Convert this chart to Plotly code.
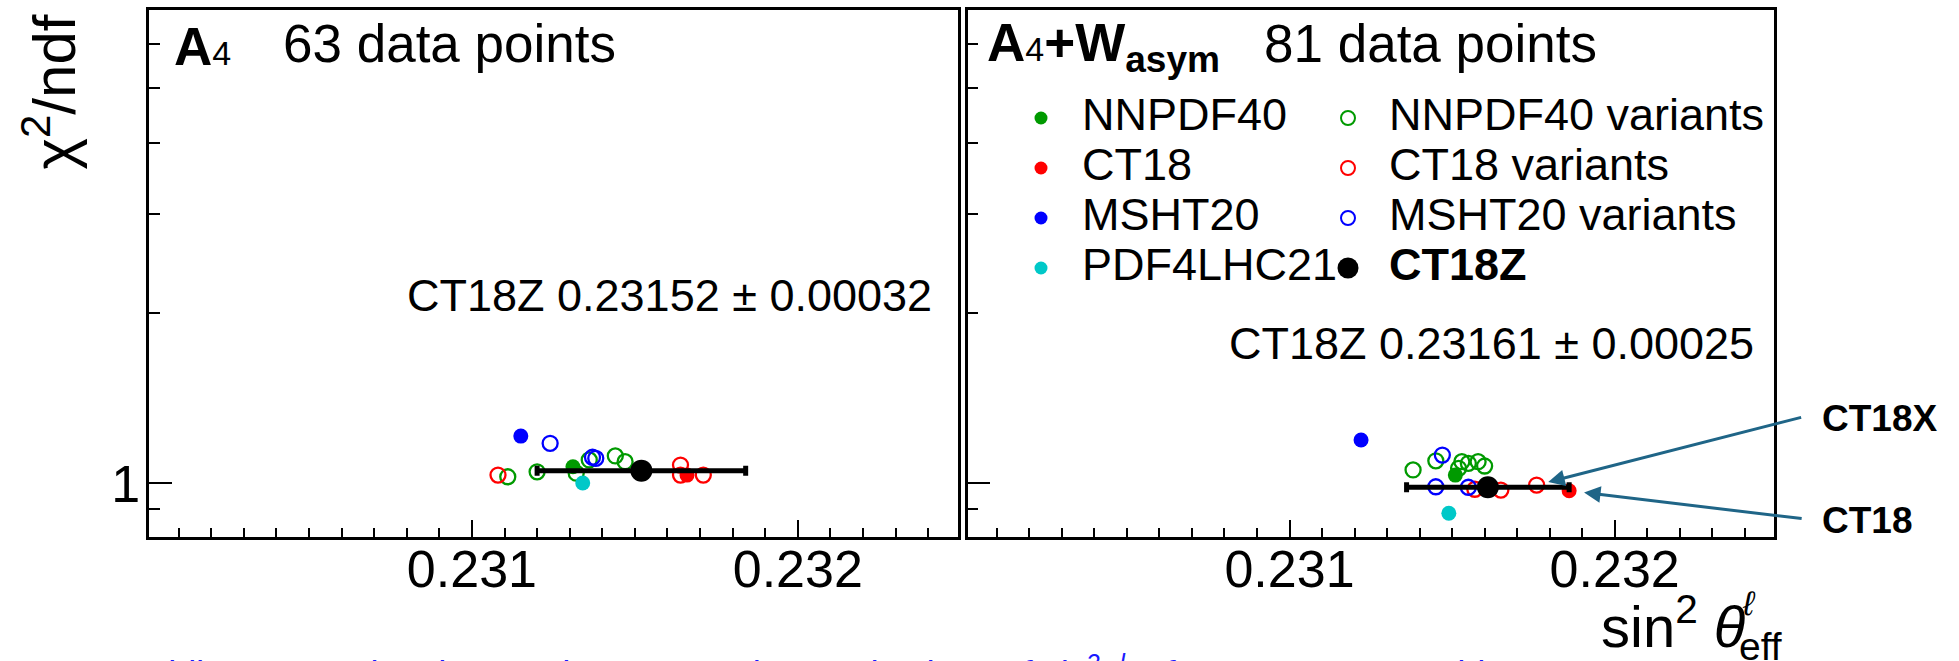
import numpy as np
import plotly.graph_objects as go

W, H = 1959, 661
FONT = "Liberation Sans, Arial, Helvetica, sans-serif"

GREEN = "#009a00"
RED = "#ff0000"
BLUE = "#0000ff"
CYAN = "#00c8c8"
ARROW = "#1f6587"

# ---------------- fit results: x = sin^2(theta_eff), y = chi^2/ndf ----------------
# A4 only (63 data points)
A4_NNPDF40_X = [0.23131]
A4_NNPDF40_Y = [1.070]
A4_CT18_X = [0.23166]
A4_CT18_Y = [1.034]
A4_MSHT20_X = [0.23115]
A4_MSHT20_Y = [1.212]
A4_PDF4LHC21_X = [0.23134]
A4_PDF4LHC21_Y = [1.001]
A4_NNPDF40_VAR_X = [0.23111, 0.23120, 0.23132, 0.23136, 0.23144, 0.23147]
A4_NNPDF40_VAR_Y = [1.027, 1.048, 1.042, 1.100, 1.118, 1.092]
A4_CT18_VAR_X = [0.23108, 0.23164, 0.23164, 0.23171]
A4_CT18_VAR_Y = [1.034, 1.077, 1.034, 1.034]
A4_MSHT20_VAR_X = [0.23124, 0.23137, 0.23138]
A4_MSHT20_VAR_Y = [1.177, 1.112, 1.107]
A4_CT18Z_X = [0.23152]
A4_CT18Z_Y = [1.053]
A4_CT18Z_ERR = [0.00032]

# A4 + W asymmetry (81 data points)
AW_NNPDF40_X = [0.23151]
AW_NNPDF40_Y = [1.034]
AW_CT18_X = [0.23186]
AW_CT18_Y = [0.970]
AW_MSHT20_X = [0.23122]
AW_MSHT20_Y = [1.193]
AW_PDF4LHC21_X = [0.23149]
AW_PDF4LHC21_Y = [0.885]
AW_NNPDF40_VAR_X = [0.23138, 0.23145, 0.23152, 0.23153, 0.23155, 0.23158, 0.23160]
AW_NNPDF40_VAR_Y = [1.056, 1.096, 1.063, 1.092, 1.085, 1.092, 1.073]
AW_CT18_VAR_X = [0.23157, 0.23165, 0.23176]   # last entry: CT18X
AW_CT18_VAR_Y = [0.976, 0.973, 0.993]
AW_MSHT20_VAR_X = [0.23145, 0.23147, 0.23155]
AW_MSHT20_VAR_Y = [0.986, 1.122, 0.984]
AW_CT18Z_X = [0.23161]
AW_CT18Z_Y = [0.984]
AW_CT18Z_ERR = [0.00025]

# axis ticks
X_MAJOR = [0.2305, 0.231, 0.2315, 0.232]
X_MAJOR_TEXT = ["", "0.231", "", "0.232"]
X_MINOR = [round(v, 5) for v in np.arange(0.2301, 0.23245, 0.0001)]
Y_MAJOR = [1]
Y_MAJOR_TEXT = ["1"]
Y_MINOR = [0.9, 2, 3, 4, 5, 6]

X_RANGE = [0.23001, 0.23249]
Y_RANGE = [np.log10(0.8035), np.log10(6.88)]

# legend entries (column 1 / column 2)
LEG_COL1 = ["NNPDF40", "CT18", "MSHT20", "PDF4LHC21"]
LEG_COL1_COLORS = [GREEN, RED, BLUE, CYAN]
LEG_COL2 = ["NNPDF40 variants", "CT18 variants", "MSHT20 variants", "<b>CT18Z</b>"]
LEG_COL2_COLORS = [GREEN, RED, BLUE, "black"]


def px(xp):
    return xp / W


def py(yp):
    return 1 - yp / H


fig = go.Figure()


def add_panel(xa, ya, nn, ct, ms, pl, nnv, ctv, msv, cz):
    open_kw = dict(symbol="circle-open", size=15, line=dict(width=2.3))
    for (xs, ys), col in [(nnv, GREEN), (ctv, RED), (msv, BLUE)]:
        fig.add_trace(go.Scatter(x=xs, y=ys, mode="markers", xaxis=xa, yaxis=ya,
                                 marker=dict(color=col, **open_kw), showlegend=False))
    for (xs, ys), col in [(nn, GREEN), (ct, RED), (ms, BLUE), (pl, CYAN)]:
        fig.add_trace(go.Scatter(x=xs, y=ys, mode="markers", xaxis=xa, yaxis=ya,
                                 marker=dict(color=col, size=15, symbol="circle"), showlegend=False))
    czx, czy, cze = cz
    fig.add_trace(go.Scatter(x=czx, y=czy, mode="markers", xaxis=xa, yaxis=ya,
                             marker=dict(color="black", size=22, symbol="circle"),
                             error_x=dict(type="data", array=cze, color="black", thickness=5, width=5),
                             showlegend=False))


add_panel("x", "y", (A4_NNPDF40_X, A4_NNPDF40_Y), (A4_CT18_X, A4_CT18_Y), (A4_MSHT20_X, A4_MSHT20_Y),
          (A4_PDF4LHC21_X, A4_PDF4LHC21_Y), (A4_NNPDF40_VAR_X, A4_NNPDF40_VAR_Y),
          (A4_CT18_VAR_X, A4_CT18_VAR_Y), (A4_MSHT20_VAR_X, A4_MSHT20_VAR_Y),
          (A4_CT18Z_X, A4_CT18Z_Y, A4_CT18Z_ERR))
add_panel("x2", "y2", (AW_NNPDF40_X, AW_NNPDF40_Y), (AW_CT18_X, AW_CT18_Y), (AW_MSHT20_X, AW_MSHT20_Y),
          (AW_PDF4LHC21_X, AW_PDF4LHC21_Y), (AW_NNPDF40_VAR_X, AW_NNPDF40_VAR_Y),
          (AW_CT18_VAR_X, AW_CT18_VAR_Y), (AW_MSHT20_VAR_X, AW_MSHT20_VAR_Y),
          (AW_CT18Z_X, AW_CT18Z_Y, AW_CT18Z_ERR))

# legend symbols, placed on a pixel-coordinate overlay
leg_rows = [118, 168, 218, 268]
col1_x, col2_x = 1041, 1348
fig.add_trace(go.Scatter(x=[col1_x] * 4, y=leg_rows, mode="markers", xaxis="x3", yaxis="y3",
                         marker=dict(color=LEG_COL1_COLORS, size=13, symbol="circle"), showlegend=False))
fig.add_trace(go.Scatter(x=[col2_x] * 3, y=leg_rows[:3], mode="markers", xaxis="x3", yaxis="y3",
                         marker=dict(color=LEG_COL2_COLORS[:3], size=14, symbol="circle-open",
                                     line=dict(width=2)), showlegend=False))
fig.add_trace(go.Scatter(x=[col2_x], y=[leg_rows[3]], mode="markers", xaxis="x3", yaxis="y3",
                         marker=dict(color="black", size=21, symbol="circle"), showlegend=False))


def xaxis_cfg(domain, anchor):
    return dict(domain=domain, anchor=anchor, range=X_RANGE, showline=True, linewidth=2.5,
                linecolor="black", mirror=True, ticks="inside", ticklen=17, tickwidth=2,
                tickcolor="black", tickmode="array", tickvals=X_MAJOR, ticktext=X_MAJOR_TEXT,
                ticklabelstandoff=-15,
                minor=dict(tickmode="array", tickvals=X_MINOR, ticks="inside", ticklen=9,
                           tickwidth=2, tickcolor="black", showgrid=False),
                showgrid=False, zeroline=False, fixedrange=True,
                tickfont=dict(family=FONT, size=52, color="black"))


def yaxis_cfg(anchor, labels):
    return dict(domain=[py(537), py(10)], anchor=anchor, type="log", range=Y_RANGE, showline=True,
                linewidth=2.5, linecolor="black", mirror=True, ticks="inside", ticklen=23,
                tickwidth=2, tickcolor="black", tickmode="array", tickvals=Y_MAJOR,
                ticktext=Y_MAJOR_TEXT, showticklabels=labels, ticklabelstandoff=-4,
                minor=dict(tickmode="array", tickvals=Y_MINOR, ticks="inside", ticklen=11,
                           tickwidth=2, tickcolor="black", showgrid=False),
                showgrid=False, zeroline=False, fixedrange=True,
                tickfont=dict(family=FONT, size=52, color="black"))


annotations = []


def text(x, y, s, size, xanchor="left", yanchor="middle", color="black", angle=0, family=FONT):
    annotations.append(dict(xref="paper", yref="paper", x=px(x), y=py(y), text=s, showarrow=False,
                            xanchor=xanchor, yanchor=yanchor, textangle=angle,
                            font=dict(family=family, size=size, color=color)))


# axis titles
text(50, 13, "χ<sup>2</sup>/ndf", 60, xanchor="center", yanchor="top", angle=-90)
text(1747, 622, "sin<sup>2</sup> <i>θ</i>", 58, xanchor="right")
text(1740, 603, "<i>ℓ</i>", 34)
text(1737, 646, "eff", 39)

# panel headers
text(172, 46, "<b>A</b><span style='font-size:34px'>4</span>", 53)
text(281, 44, "63 data points", 53)
text(985, 46, "<b>A</b><span style='font-size:34px'>4</span><b>+W<sub>asym</sub></b>", 53)
text(1262, 44, "81 data points", 53)

# fitted values
text(934, 296, "CT18Z 0.23152 ± 0.00032", 45, xanchor="right")
text(1756, 343, "CT18Z 0.23161 ± 0.00025", 45, xanchor="right")

# legend labels
for i, lab in enumerate(LEG_COL1):
    text(1080, leg_rows[i] - 4, lab, 45)
for i, lab in enumerate(LEG_COL2):
    text(1387, leg_rows[i] - 4, lab, 45)

# CT18X / CT18 call-outs
text(1820, 418, "<b>CT18X</b>", 37)
text(1820, 520, "<b>CT18</b>", 37)
annotations.append(dict(xref="x2", yref="y2", x=AW_CT18_VAR_X[-1], y=np.log10(AW_CT18_VAR_Y[-1]),
                        ax=266, ay=-68, text="", showarrow=True, arrowhead=2, arrowsize=1.1,
                        arrowwidth=3, arrowcolor=ARROW, standoff=12))
annotations.append(dict(xref="x2", yref="y2", x=AW_CT18_X[0], y=np.log10(AW_CT18_Y[0]),
                        ax=234, ay=28, text="", showarrow=True, arrowhead=2, arrowsize=1.1,
                        arrowwidth=3, arrowcolor=ARROW, standoff=15))

# caption line running below the figure
text(125, 647, "<i>Adding W<sub>asym</sub> data lowers the extracted central values of "
               "sin<sup>2</sup>θ<sup>l</sup><sub>eff</sub> for 18 PDF ensembles</i>",
     36, yanchor="top", color="#1a1aff")

fig.update_layout(
    width=W, height=H, autosize=False,
    margin=dict(l=0, r=0, t=0, b=0, pad=0),
    paper_bgcolor="white", plot_bgcolor="rgba(0,0,0,0)",
    showlegend=False,
    xaxis=xaxis_cfg([px(149.3), px(957.5)], "y"),
    yaxis=yaxis_cfg("x", True),
    xaxis2=xaxis_cfg([px(967.6), px(1774)], "y2"),
    yaxis2=yaxis_cfg("x2", False),
    xaxis3=dict(domain=[0, 1], range=[0, W], visible=False, anchor="y3", fixedrange=True),
    yaxis3=dict(domain=[0, 1], range=[H, 0], visible=False, anchor="x3", fixedrange=True),
    annotations=annotations,
)

fig.write_html("out.html")
